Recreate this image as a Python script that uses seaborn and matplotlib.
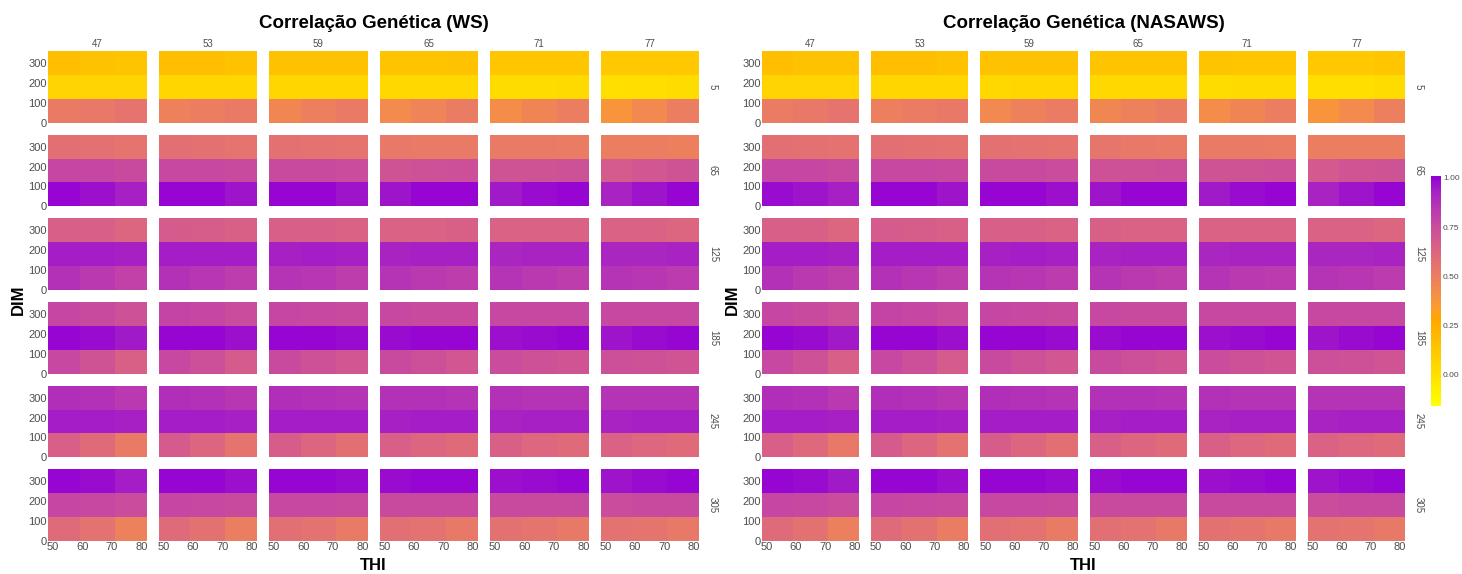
import numpy as np
import pandas as pd
import matplotlib
matplotlib.use("Agg")
import matplotlib.pyplot as plt
import seaborn as sns
from matplotlib.colors import ListedColormap, Normalize, to_rgb
from matplotlib.cm import ScalarMappable

# ---------------- data ----------------
THI_FACETS = [47, 53, 59, 65, 71, 77]
DIM_FACETS = [5, 65, 125, 185, 245, 305]
THI_EDGES = [48.3, 59.0, 71.0, 81.7]
DIM_EDGES = [0, 120, 240, 360]
THI_CELLS = [53.6, 65.0, 76.4]
DIM_CELLS = [300, 180, 60]          # tile rows, top to bottom
X_TICKS = [50, 60, 70, 80]
Y_TICKS = [0, 100, 200, 300]
CBAR_TICKS = [0.0, 0.25, 0.50, 0.75, 1.00]
PANEL_TITLES = ["Correlação Genética (WS)", "Correlação Genética (NASAWS)"]

# each row: 6 THI facets x 3 THI cells; three rows = DIM cells 300, 180, 60
WS_DIM5 = [
    [0.16, 0.15, 0.14, 0.16, 0.16, 0.15, 0.15, 0.15, 0.15, 0.14, 0.14, 0.15, 0.13, 0.13, 0.13, 0.12, 0.12, 0.12],
    [0.06, 0.06, 0.06, 0.05, 0.05, 0.05, 0.05, 0.05, 0.05, 0.04, 0.04, 0.04, 0.02, 0.02, 0.03, 0.00, 0.01, 0.02],
    [0.52, 0.53, 0.55, 0.48, 0.50, 0.52, 0.45, 0.49, 0.52, 0.43, 0.47, 0.51, 0.42, 0.46, 0.50, 0.38, 0.44, 0.50],
]
WS_DIM65 = [
    [0.58, 0.57, 0.55, 0.58, 0.57, 0.55, 0.57, 0.56, 0.55, 0.53, 0.52, 0.52, 0.52, 0.52, 0.51, 0.50, 0.50, 0.49],
    [0.78, 0.78, 0.76, 0.77, 0.77, 0.76, 0.76, 0.76, 0.75, 0.72, 0.73, 0.74, 0.72, 0.72, 0.73, 0.68, 0.70, 0.72],
    [0.99, 0.97, 0.93, 0.99, 0.99, 0.96, 0.99, 0.99, 0.96, 0.96, 0.99, 0.99, 0.95, 0.98, 0.99, 0.92, 0.96, 0.99],
]
WS_DIM125 = [
    [0.66, 0.66, 0.63, 0.68, 0.67, 0.65, 0.66, 0.66, 0.64, 0.64, 0.64, 0.65, 0.64, 0.64, 0.64, 0.64, 0.64, 0.63],
    [0.94, 0.94, 0.93, 0.94, 0.94, 0.94, 0.93, 0.94, 0.93, 0.92, 0.93, 0.93, 0.91, 0.92, 0.92, 0.91, 0.91, 0.92],
    [0.87, 0.84, 0.80, 0.87, 0.85, 0.82, 0.86, 0.85, 0.82, 0.86, 0.84, 0.82, 0.86, 0.84, 0.82, 0.86, 0.85, 0.83],
]
WS_DIM185 = [
    [0.78, 0.76, 0.73, 0.79, 0.78, 0.75, 0.78, 0.77, 0.76, 0.77, 0.76, 0.76, 0.77, 0.77, 0.77, 0.77, 0.77, 0.77],
    [0.99, 0.98, 0.95, 0.99, 0.99, 0.97, 0.99, 0.99, 0.98, 0.98, 0.99, 0.99, 0.97, 0.98, 0.99, 0.96, 0.98, 0.99],
    [0.77, 0.72, 0.65, 0.77, 0.74, 0.68, 0.76, 0.73, 0.70, 0.76, 0.74, 0.70, 0.75, 0.73, 0.71, 0.74, 0.73, 0.71],
]
WS_DIM245 = [
    [0.88, 0.87, 0.84, 0.88, 0.87, 0.85, 0.88, 0.87, 0.86, 0.87, 0.87, 0.86, 0.87, 0.86, 0.86, 0.86, 0.86, 0.86],
    [0.94, 0.94, 0.93, 0.94, 0.94, 0.93, 0.94, 0.94, 0.94, 0.93, 0.94, 0.94, 0.92, 0.93, 0.93, 0.92, 0.93, 0.93],
    [0.66, 0.60, 0.52, 0.68, 0.63, 0.55, 0.67, 0.63, 0.58, 0.66, 0.63, 0.60, 0.65, 0.62, 0.60, 0.64, 0.62, 0.60],
]
WS_DIM305 = [
    [0.99, 0.98, 0.94, 0.99, 0.99, 0.97, 0.99, 0.99, 0.98, 0.98, 0.99, 0.99, 0.97, 0.98, 0.99, 0.96, 0.98, 0.99],
    [0.78, 0.77, 0.75, 0.78, 0.77, 0.76, 0.77, 0.77, 0.76, 0.76, 0.76, 0.76, 0.76, 0.76, 0.76, 0.75, 0.76, 0.76],
    [0.60, 0.56, 0.48, 0.60, 0.57, 0.50, 0.58, 0.56, 0.52, 0.58, 0.56, 0.53, 0.57, 0.55, 0.53, 0.56, 0.55, 0.53],
]

NASA_DIM5 = [
    [0.16, 0.15, 0.15, 0.16, 0.16, 0.15, 0.15, 0.15, 0.15, 0.14, 0.14, 0.14, 0.14, 0.13, 0.13, 0.12, 0.12, 0.13],
    [0.06, 0.06, 0.06, 0.05, 0.05, 0.05, 0.04, 0.05, 0.05, 0.04, 0.04, 0.04, 0.02, 0.03, 0.03, 0.01, 0.01, 0.02],
    [0.51, 0.53, 0.55, 0.49, 0.51, 0.53, 0.44, 0.48, 0.51, 0.45, 0.48, 0.51, 0.42, 0.46, 0.50, 0.38, 0.43, 0.49],
]
NASA_DIM65 = [
    [0.58, 0.57, 0.56, 0.58, 0.57, 0.56, 0.57, 0.56, 0.55, 0.54, 0.53, 0.52, 0.52, 0.52, 0.51, 0.50, 0.50, 0.50],
    [0.78, 0.78, 0.76, 0.77, 0.77, 0.76, 0.76, 0.76, 0.75, 0.73, 0.73, 0.74, 0.72, 0.72, 0.73, 0.69, 0.71, 0.72],
    [0.98, 0.96, 0.93, 0.99, 0.99, 0.96, 0.99, 0.99, 0.97, 0.96, 0.99, 0.99, 0.95, 0.98, 0.99, 0.92, 0.96, 0.99],
]
NASA_DIM125 = [
    [0.66, 0.65, 0.63, 0.68, 0.67, 0.65, 0.66, 0.66, 0.64, 0.65, 0.64, 0.64, 0.64, 0.64, 0.64, 0.64, 0.64, 0.63],
    [0.94, 0.94, 0.93, 0.94, 0.94, 0.94, 0.93, 0.94, 0.93, 0.92, 0.93, 0.93, 0.91, 0.92, 0.92, 0.91, 0.91, 0.92],
    [0.87, 0.84, 0.81, 0.87, 0.85, 0.82, 0.86, 0.85, 0.83, 0.86, 0.84, 0.82, 0.86, 0.84, 0.83, 0.86, 0.85, 0.83],
]
NASA_DIM185 = [
    [0.78, 0.76, 0.74, 0.79, 0.78, 0.75, 0.78, 0.77, 0.76, 0.77, 0.76, 0.76, 0.77, 0.77, 0.77, 0.77, 0.77, 0.77],
    [0.99, 0.98, 0.95, 0.99, 0.99, 0.97, 0.99, 0.99, 0.98, 0.98, 0.99, 0.99, 0.97, 0.98, 0.99, 0.96, 0.98, 0.99],
    [0.77, 0.73, 0.66, 0.77, 0.74, 0.68, 0.76, 0.73, 0.70, 0.76, 0.74, 0.71, 0.75, 0.73, 0.71, 0.74, 0.73, 0.71],
]
NASA_DIM245 = [
    [0.88, 0.87, 0.84, 0.88, 0.87, 0.85, 0.88, 0.87, 0.86, 0.87, 0.87, 0.86, 0.87, 0.86, 0.86, 0.86, 0.86, 0.86],
    [0.94, 0.94, 0.93, 0.94, 0.94, 0.93, 0.94, 0.94, 0.94, 0.93, 0.94, 0.94, 0.92, 0.93, 0.93, 0.92, 0.93, 0.93],
    [0.66, 0.61, 0.53, 0.68, 0.63, 0.56, 0.67, 0.63, 0.58, 0.66, 0.63, 0.60, 0.65, 0.62, 0.60, 0.64, 0.62, 0.60],
]
NASA_DIM305 = [
    [0.99, 0.98, 0.95, 0.99, 0.99, 0.97, 0.99, 0.99, 0.98, 0.98, 0.99, 0.99, 0.97, 0.98, 0.99, 0.96, 0.98, 0.99],
    [0.78, 0.77, 0.75, 0.78, 0.77, 0.76, 0.77, 0.77, 0.76, 0.76, 0.76, 0.76, 0.76, 0.76, 0.76, 0.75, 0.76, 0.76],
    [0.60, 0.57, 0.49, 0.60, 0.57, 0.51, 0.58, 0.56, 0.52, 0.58, 0.56, 0.53, 0.57, 0.55, 0.53, 0.56, 0.55, 0.53],
]

PANELS = [
    [WS_DIM5, WS_DIM65, WS_DIM125, WS_DIM185, WS_DIM245, WS_DIM305],
    [NASA_DIM5, NASA_DIM65, NASA_DIM125, NASA_DIM185, NASA_DIM245, NASA_DIM305],
]
VMIN, VMAX = -0.16, 1.01

# ---------------- colour map (Lab interpolation yellow -> orange -> darkviolet) ----------------
def _srgb_to_lab(c):
    c = np.asarray(c, float)
    lin = np.where(c <= 0.04045, c / 12.92, ((c + 0.055) / 1.055) ** 2.4)
    M = np.array([[0.4124, 0.3576, 0.1805], [0.2126, 0.7152, 0.0722], [0.0193, 0.1192, 0.9505]])
    xyz = M @ lin / np.array([0.95047, 1.0, 1.08883])
    f = np.where(xyz > 0.008856, np.cbrt(xyz), 7.787 * xyz + 16 / 116)
    return np.array([116 * f[1] - 16, 500 * (f[0] - f[1]), 200 * (f[1] - f[2])])

def _lab_to_srgb(lab):
    L, a, b = lab
    fy = (L + 16) / 116
    fx, fz = fy + a / 500, fy - b / 200
    f = np.array([fx, fy, fz])
    xyz = np.where(f ** 3 > 0.008856, f ** 3, (f - 16 / 116) / 7.787) * np.array([0.95047, 1.0, 1.08883])
    Minv = np.array([[3.2406, -1.5372, -0.4986], [-0.9689, 1.8758, 0.0415], [0.0557, -0.2040, 1.0570]])
    lin = Minv @ xyz
    lin = np.clip(lin, 0, 1)
    c = np.where(lin <= 0.0031308, 12.92 * lin, 1.055 * lin ** (1 / 2.4) - 0.055)
    return np.clip(c, 0, 1)

stops_v = [VMIN, 0.29, 1.0]
stops_c = [_srgb_to_lab(to_rgb(c)) for c in ["#FFFF00", "#FFA500", "#9400D3"]]
vals = np.linspace(VMIN, VMAX, 256)
cols = []
for v in vals:
    v = min(v, 1.0)
    i = 0 if v <= stops_v[1] else 1
    t = (v - stops_v[i]) / (stops_v[i + 1] - stops_v[i])
    cols.append(_lab_to_srgb(stops_c[i] * (1 - t) + stops_c[i + 1] * t))
cmap = ListedColormap(cols)
norm = Normalize(VMIN, VMAX)

# ---------------- long table ----------------
records = []
for p, panel in enumerate(PANELS):
    for i, dim_f in enumerate(DIM_FACETS):
        for r, dim_c in enumerate(DIM_CELLS):
            for j, thi_f in enumerate(THI_FACETS):
                for c, thi_c in enumerate(THI_CELLS):
                    records.append((p, dim_f, thi_f, thi_c, dim_c, panel[i][r][j * 3 + c]))
df = pd.DataFrame(records, columns=["panel", "DIMf", "THIf", "THI", "DIM", "r"])

# ---------------- figure ----------------
sns.set_theme(style="white")
plt.rcParams["font.family"] = ["Liberation Sans", "DejaVu Sans"]
W, H = 1462, 574
fig = plt.figure(figsize=(W / 100, H / 100), dpi=100)
fig.patch.set_facecolor("white")

panel_left = [48, 762]
panel_right = [699, 1405]
top, bottom, gap = 51, 541, 12
fh = (bottom - top - 5 * gap) / 6
grey = "#4d4d4d"

for p in range(2):
    fw = (panel_right[p] - panel_left[p] - 5 * gap) / 6
    for i, dim_f in enumerate(DIM_FACETS):
        for j, thi_f in enumerate(THI_FACETS):
            x0 = panel_left[p] + j * (fw + gap)
            y0 = top + i * (fh + gap)
            ax = fig.add_axes([x0 / W, 1 - (y0 + fh) / H, fw / W, fh / H])
            sub = df[(df.panel == p) & (df.DIMf == dim_f) & (df.THIf == thi_f)]
            sns.histplot(data=sub, x="THI", y="DIM", weights="r",
                         bins=[THI_EDGES, DIM_EDGES], cmap=cmap,
                         vmin=VMIN, vmax=VMAX, thresh=None, cbar=False, ax=ax)
            ax.set_xlim(THI_EDGES[0], THI_EDGES[-1])
            ax.set_ylim(DIM_EDGES[0], DIM_EDGES[-1])
            ax.set_xlabel("")
            ax.set_ylabel("")
            for s in ax.spines.values():
                s.set_visible(False)
            ax.tick_params(length=0, pad=1, labelsize=8, labelcolor=grey)
            ax.set_xticks(X_TICKS)
            ax.set_yticks(Y_TICKS)
            if i != 5:
                ax.set_xticklabels([])
            if j != 0:
                ax.set_yticklabels([])
            if i == 0:
                ax.set_title(str(thi_f), fontsize=7, color=grey, pad=3)
            if j == 5:
                ax.text(1.0 + 14 / fw, 0.5, str(dim_f), transform=ax.transAxes,
                        rotation=-90, ha="center", va="center", fontsize=7, color=grey)

    cx = (panel_left[p] + panel_right[p]) / 2
    fig.text(cx / W, 1 - 24 / H, PANEL_TITLES[p], ha="center", va="center",
             fontsize=13.5, fontweight="bold", color="black")
    fig.text(cx / W, 1 - 565 / H, "THI", ha="center", va="center",
             fontsize=12, fontweight="bold", color="black")
    fig.text((panel_left[p] - 30) / W, 1 - 300 / H, "DIM", ha="center", va="center",
             rotation=90, fontsize=12, fontweight="bold", color="black")

cax = fig.add_axes([1431 / W, 1 - 406 / H, 10 / W, 230 / H])
cb = fig.colorbar(ScalarMappable(norm=norm, cmap=cmap), cax=cax, ticks=CBAR_TICKS)
cb.outline.set_visible(False)
cb.ax.set_yticklabels([f"{t:.2f}" for t in CBAR_TICKS])
cb.ax.tick_params(labelsize=6, labelcolor=grey, length=0, pad=1.5)

fig.savefig("out.png", dpi=100)
